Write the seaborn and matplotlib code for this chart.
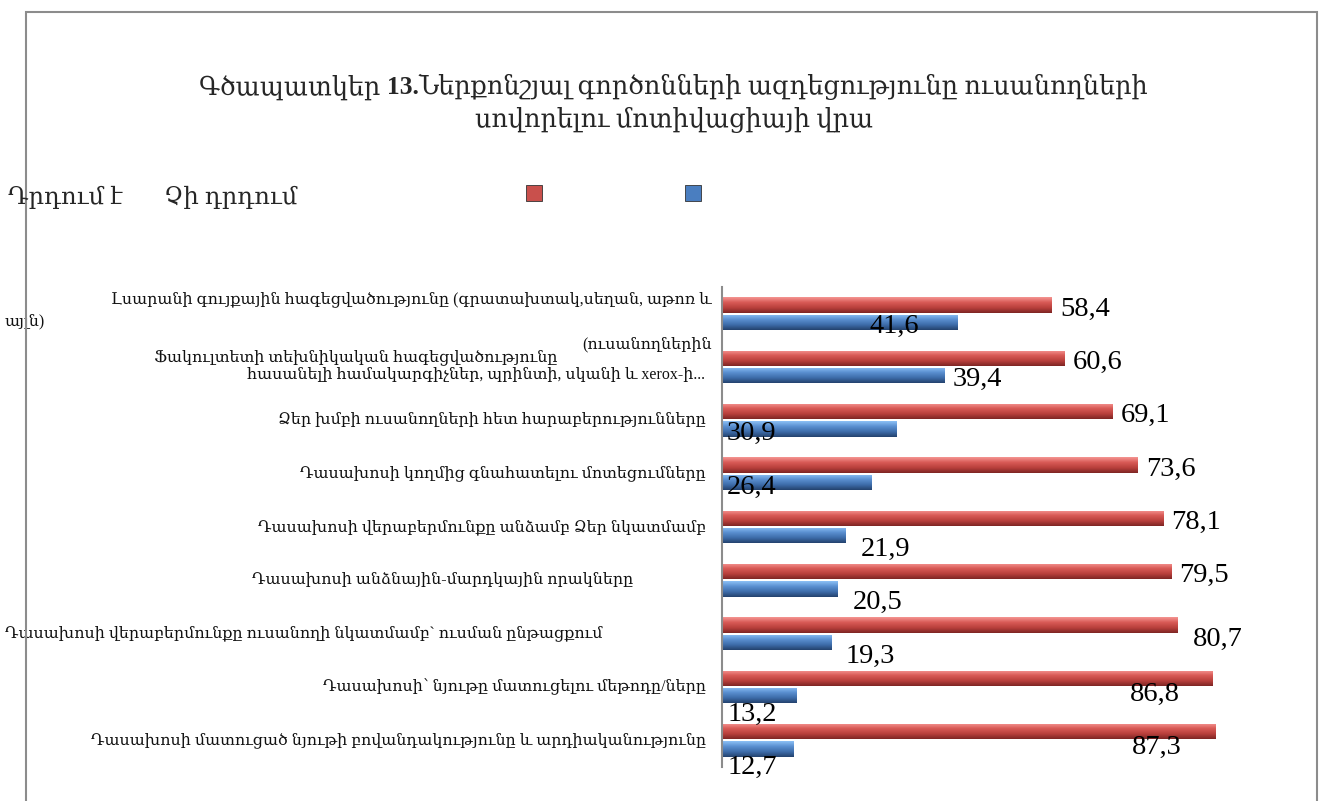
import numpy as np
import pandas as pd
import matplotlib
matplotlib.use("Agg")
import matplotlib.pyplot as plt
import seaborn as sns
from matplotlib.patches import Rectangle
from matplotlib.colors import LinearSegmentedColormap

# Տվյալներ
categories = [
    "Լսարանի գույքային հագեցվածությունը (գրատախտակ,սեղան, աթոռ և այլն)",
    "Ֆակուլտետի տեխնիկական հագեցվածությունը (ուսանողներին հասանելի համակարգիչներ, պրինտի, սկանի և xerox-ի...",
    "Ձեր խմբի ուսանողների հետ հարաբերությունները",
    "Դասախոսի կողմից գնահատելու մոտեցումները",
    "Դասախոսի վերաբերմունքը անձամբ Ձեր նկատմամբ",
    "Դասախոսի անձնային-մարդկային որակները",
    "Դասախոսի վերաբերմունքը ուսանողի նկատմամբ` ուսման ընթացքում",
    "Դասախոսի՝ նյութը մատուցելու մեթոդը/ները",
    "Դասախոսի մատուցած նյութի բովանդակությունը և արդիականությունը",
]
series = ["Դրդում է", "Չի դրդում"]
motivates = [58.4, 60.6, 69.1, 73.6, 78.1, 79.5, 80.7, 86.8, 87.3]
not_motivates = [41.6, 39.4, 30.9, 26.4, 21.9, 20.5, 19.3, 13.2, 12.7]

title_parts = ["Գծապատկեր ", "13.", "Ներքոնշյալ գործոնների ազդեցությունը ուսանողների"]
title_line2 = "սովորելու մոտիվացիայի վրա"

df = pd.DataFrame({
    "factor": categories * 2,
    "group": [series[0]] * len(categories) + [series[1]] * len(categories),
    "value": motivates + not_motivates,
})

# Ոճ
sns.set_theme(style="white")
plt.rcParams["font.family"] = ["Liberation Serif", "DejaVu Serif"]

red_base, blue_base = "#C9504C", "#4A7EC0"
red_cmap = LinearSegmentedColormap.from_list("r", ["#F59592", "#D85A56", "#B9403C", "#7E2624"])
blue_cmap = LinearSegmentedColormap.from_list("b", ["#8CC0F5", "#5A8FD0", "#3E6DAA", "#24426E"])

W, H = 1319, 801
fig = plt.figure(figsize=(W / 100, H / 100), dpi=100)
ax = fig.add_axes([722 / W, 1 - 767 / H, (1287 - 722) / W, (767 - 287) / H])

sns.barplot(data=df, y="factor", x="value", hue="group", orient="h",
            palette=[red_base, blue_base], width=0.64, gap=0.1,
            legend=False, ax=ax)

# gradient inside every bar
grad = np.linspace(0, 1, 64).reshape(-1, 1)
for cont, cmap in zip(ax.containers, [red_cmap, blue_cmap]):
    for bar in cont:
        x0, y0 = bar.get_x(), bar.get_y()
        w, h = bar.get_width(), bar.get_height()
        im = ax.imshow(grad, cmap=cmap, aspect="auto", origin="upper",
                       extent=(x0, x0 + w, y0 + h, y0), zorder=bar.get_zorder() + 0.1)
        im.set_clip_path(bar)
        bar.set_edgecolor("none")

ax.set_xlim(0, 100)
ax.set_ylim(len(categories) - 0.5, -0.5)
ax.set_xlabel("")
ax.set_ylabel("")
ax.set_xticks([])
ax.set_yticks([])
for s in ["top", "right", "bottom"]:
    ax.spines[s].set_visible(False)
ax.spines["left"].set_color("#8C8C8C")
ax.spines["left"].set_linewidth(1.5)

# value labels
red_modes = ["end", "end", "end", "end", "end", "end", "low", "under", "under"]
blue_modes = ["in", "end", "base", "base", "low", "low", "low", "base_low", "base_low"]
place = {
    "end": (False, 8, -4, "left"),
    "low": (False, 15, -14, "left"),
    "under": (False, -58, -16, "center"),
    "in": (False, -38, -4, "right"),
    "base": (True, 5, -5, "left"),
    "base_low": (True, 6, -19, "left"),
}
for cont, modes in zip(ax.containers, [red_modes, blue_modes]):
    for bar, mode in zip(cont, modes):
        at_base, dx, dy, ha = place[mode]
        v = bar.get_width()
        yc = bar.get_y() + bar.get_height() / 2
        ax.annotate(f"{v:.1f}".replace(".", ","), xy=(0 if at_base else v, yc),
                    xytext=(dx, dy), textcoords="offset pixels",
                    ha=ha, va="center", fontsize=20.5, color="black", zorder=5)

# category labels (the original wraps them unevenly)
lab_font = dict(fontsize=11.4, color="#111111", va="center")
def cat_label(text, i, dy=0, x=None, ha="right"):
    if x is None:
        ax.annotate(text, xy=(0, i), xytext=(-16, -dy), textcoords="offset pixels",
                    ha=ha, **lab_font)
    else:
        ax.annotate(text, xy=(x, i), xycoords=("figure pixels", "data"),
                    xytext=(0, -dy), textcoords="offset pixels", ha=ha, **lab_font)

cat_label("Լսարանի գույքային հագեցվածությունը (գրատախտակ,սեղան, աթոռ և", 0, -14, x=712)
cat_label("այլն)", 0, 8, x=5, ha="left")
cat_label("(ուսանողներին", 1, -23, x=712)
cat_label("Ֆակուլտետի տեխնիկական հագեցվածությունը", 1, -10, x=356, ha="center")
cat_label("հասանելի համակարգիչներ, պրինտի, սկանի և xerox-ի...", 1, 8, x=705)
for i in [2, 3, 4, 7, 8]:
    cat_label(categories[i], i)
cat_label(categories[5], 5, x=633)
cat_label(categories[6], 6, x=5, ha="left")

# title: first line in three pieces so that "13." can be bold, then centred
tfs = 18.4
pieces = []
prev = None
for k, part in enumerate(title_parts):
    weight = "bold" if k == 1 else "normal"
    if prev is None:
        t = fig.text(0, 1 - 87 / H, part, ha="left", va="center", fontsize=tfs, fontweight=weight)
    else:
        t = fig.text(0, 0, part, ha="left", va="center", fontsize=tfs, fontweight=weight)
    pieces.append(t)
    prev = t
fig.canvas.draw()
r = fig.canvas.get_renderer()
widths = [p.get_window_extent(r).width for p in pieces]
x = 674 - sum(widths) / 2
for p, w in zip(pieces, widths):
    p.set_position((x / W, 1 - 87 / H))
    x += w
fig.text(674 / W, 1 - 120 / H, title_line2, ha="center", va="center", fontsize=tfs)

# legend laid out as in the original
fig.text(8 / W, 1 - 197 / H, series[0], ha="left", va="center", fontsize=17.5)
fig.text(164 / W, 1 - 197 / H, series[1], ha="left", va="center", fontsize=17.5)
for x, c in [(526, red_base), (685, blue_base)]:
    fig.add_artist(Rectangle((x / W, 1 - 201 / H), 16 / W, 16 / H, transform=fig.transFigure,
                             facecolor=c, edgecolor="#333333", linewidth=0.6))

# chart area border
fig.add_artist(Rectangle((26 / W, -0.05), (1317 - 26) / W, (801 - 12) / H + 0.05,
                         transform=fig.transFigure, fill=False,
                         edgecolor="#8C8C8C", linewidth=1.5))

fig.savefig("out.png", dpi=100, facecolor="white")
